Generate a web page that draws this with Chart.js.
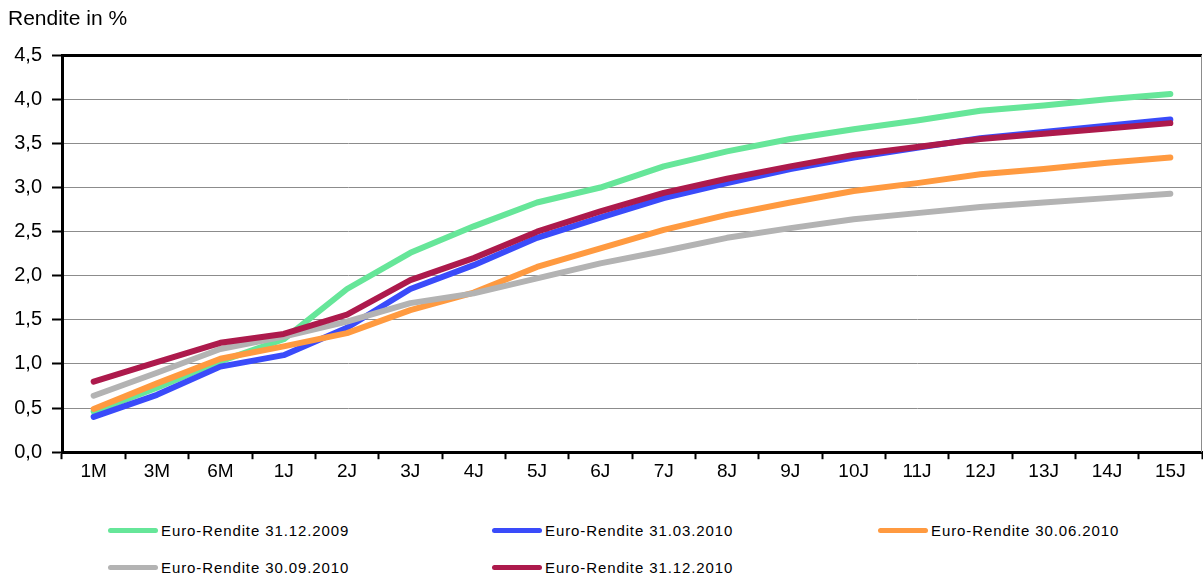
<!DOCTYPE html>
<html>
<head>
<meta charset="utf-8">
<script src="https://cdn.jsdelivr.net/npm/chart.js@4.4.1/dist/chart.umd.min.js"></script>
<style>
  body { margin: 0; background: #fff; font-family: "Liberation Sans", Arial, sans-serif; }
  #wrap { position: relative; width: 1203px; height: 579px; overflow: hidden; }
  #box { position: absolute; left: 0; top: 0; width: 1203px; height: 488px; }
  .leg { position: absolute; height: 20px; display: flex; align-items: center; font-size: 15px; letter-spacing: 0.9px; color: #000; white-space: nowrap; }
  .leg i { display: inline-block; width: 50px; height: 5px; border-radius: 3px; margin-right: 3px; }
</style>
</head>
<body>
<div id="wrap">
  <div id="box"><canvas id="yieldChart"></canvas></div>
  <div id="legend"></div>
</div>
<script>
const labels = ['1M', '3M', '6M', '1J', '2J', '3J', '4J', '5J', '6J', '7J', '8J', '9J', '10J', '11J', '12J', '13J', '14J', '15J'];

const rendite_2009_12 = [0.46, 0.73, 1.03, 1.28, 1.85, 2.26, 2.56, 2.83, 3.00, 3.24, 3.41, 3.55, 3.66, 3.76, 3.87, 3.93, 4.00, 4.06];
const rendite_2010_03 = [0.40, 0.65, 0.97, 1.10, 1.41, 1.85, 2.12, 2.43, 2.66, 2.88, 3.05, 3.21, 3.34, 3.45, 3.56, 3.63, 3.70, 3.77];
const rendite_2010_06 = [0.49, 0.78, 1.06, 1.20, 1.35, 1.61, 1.81, 2.10, 2.31, 2.52, 2.69, 2.83, 2.96, 3.05, 3.15, 3.21, 3.28, 3.34];
const rendite_2010_09 = [0.64, 0.90, 1.17, 1.31, 1.48, 1.69, 1.80, 1.97, 2.14, 2.28, 2.43, 2.54, 2.64, 2.71, 2.78, 2.83, 2.88, 2.93];
const rendite_2010_12 = [0.80, 1.02, 1.24, 1.34, 1.56, 1.95, 2.20, 2.50, 2.73, 2.94, 3.10, 3.24, 3.37, 3.46, 3.55, 3.61, 3.67, 3.73];

const seriesNames = ['Euro-Rendite 31.12.2009', 'Euro-Rendite 31.03.2010', 'Euro-Rendite 30.06.2010', 'Euro-Rendite 30.09.2010', 'Euro-Rendite 31.12.2010'];
const seriesData = [rendite_2009_12, rendite_2010_03, rendite_2010_06, rendite_2010_09, rendite_2010_12];
const seriesColors = ['#66e699', '#3a4bfa', '#ff9a40', '#b3b3b3', '#ad1a4c'];

const FONT = '"Liberation Sans", Arial, sans-serif';

// thin frame on the right side of the plot area
const rightFrame = {
  id: 'rightFrame',
  afterDraw(chart) {
    const { ctx, chartArea } = chart;
    ctx.save();
    ctx.strokeStyle = '#8c8c8c';
    ctx.lineWidth = 1;
    ctx.beginPath();
    ctx.moveTo(chartArea.right - 0.5, chartArea.top);
    ctx.lineTo(chartArea.right - 0.5, chartArea.bottom);
    ctx.stroke();
    ctx.restore();
  }
};

new Chart(document.getElementById('yieldChart'), {
  type: 'line',
  data: {
    labels: labels,
    datasets: seriesNames.map((name, i) => ({
      label: name,
      data: seriesData[i],
      borderColor: seriesColors[i],
      backgroundColor: seriesColors[i],
      borderWidth: 6,
      borderCapStyle: 'round',
      borderJoinStyle: 'round',
      pointRadius: 0,
      tension: 0,
      fill: false,
      order: seriesNames.length - i   // later series drawn on top
    }))
  },
  options: {
    responsive: true,
    maintainAspectRatio: false,
    animation: false,
    layout: { padding: { left: 8, right: 1, top: 0, bottom: 4 } },
    plugins: {
      legend: { display: false },
      tooltip: { enabled: false },
      title: {
        display: true,
        text: 'Rendite in %',
        align: 'start',
        color: '#000',
        font: { family: FONT, size: 21, weight: 'normal' },
        padding: { top: 7, bottom: 23 }
      }
    },
    scales: {
      x: {
        offset: true,
        grid: { drawOnChartArea: false, offset: true, tickLength: 7, tickColor: '#000', tickWidth: 2 },
        border: { color: '#000', width: 3 },
        ticks: { color: '#000', font: { family: FONT, size: 19 }, padding: 1, maxRotation: 0, autoSkip: false }
      },
      y: {
        min: 0,
        max: 4.5,
        afterFit: (scale) => { scale.width = 54; },
        ticks: {
          stepSize: 0.5,
          color: '#000',
          font: { family: FONT, size: 20 },
          padding: 10,
          callback: (v) => v.toFixed(1).replace('.', ',')
        },
        grid: {
          color: (c) => c.tick && c.tick.value === 4.5 ? '#000' : '#8c8c8c',
          lineWidth: (c) => c.tick && c.tick.value === 4.5 ? 3 : 1,
          tickLength: 10,
          tickColor: '#000',
          tickWidth: 2
        },
        border: { color: '#000', width: 3 }
      }
    }
  },
  plugins: [rightFrame]
});

// legend laid out in three columns like the original
const legendPos = [[108, 520], [492, 520], [878, 520], [108, 557], [492, 557]];
const legendBox = document.getElementById('legend');
seriesNames.forEach((name, i) => {
  const item = document.createElement('div');
  item.className = 'leg';
  item.style.left = legendPos[i][0] + 'px';
  item.style.top = legendPos[i][1] + 'px';
  item.innerHTML = '<i style="background:' + seriesColors[i] + '"></i><span>' + name + '</span>';
  legendBox.appendChild(item);
});
</script>
</body>
</html>
